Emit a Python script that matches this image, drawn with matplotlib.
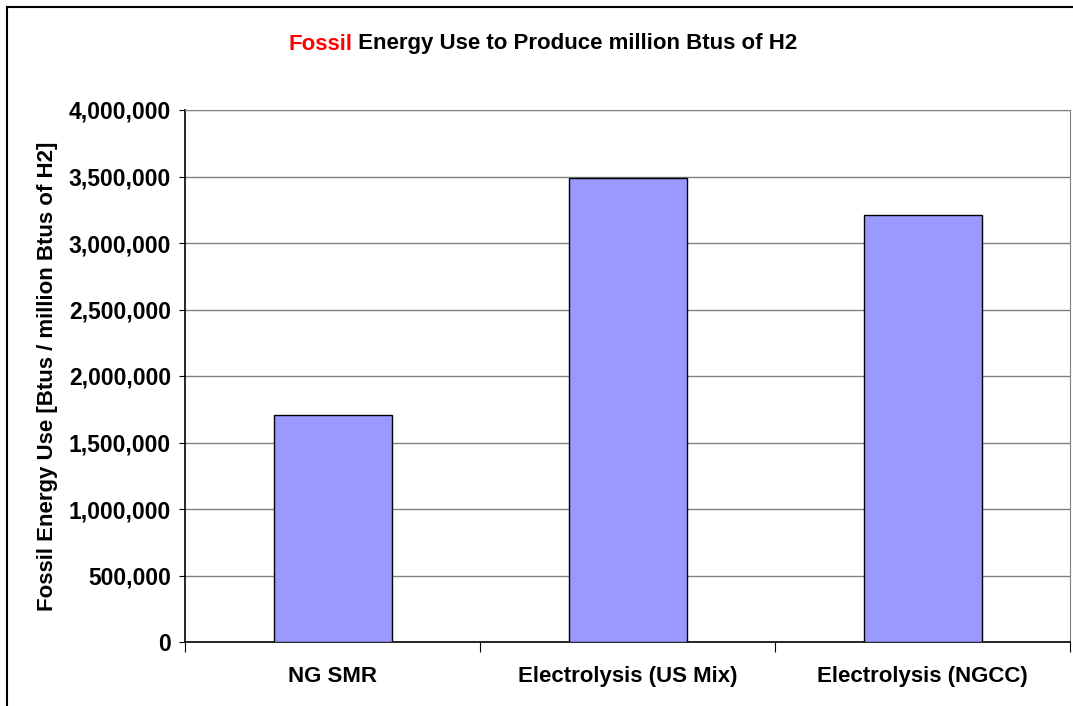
import matplotlib.pyplot as plt
import numpy as np
from matplotlib.ticker import FuncFormatter

# data
categories = ["NG SMR", "Electrolysis (US Mix)", "Electrolysis (NGCC)"]
fossil_use = [1709000, 3486000, 3210000]
y_ticks = np.arange(0, 4000001, 500000)

plt.rcParams['font.family'] = ['Liberation Sans', 'DejaVu Sans']

fig = plt.figure(figsize=(10.73, 7.06), dpi=100)
ax = fig.add_axes([185 / 1073, 1 - 642 / 706, 885 / 1073, 532 / 706])

x = np.arange(len(categories))
ax.bar(x, fossil_use, width=0.4, color='#9999ff', edgecolor='black', linewidth=1, zorder=3)

ax.set_xlim(-0.5, len(categories) - 0.5)
ax.set_ylim(0, 4000000)
ax.set_yticks(y_ticks)
ax.yaxis.set_major_formatter(FuncFormatter(lambda v, p: f"{int(v):,}"))
ax.grid(axis='y', color='#808080', linewidth=1, zorder=0)

# category separators as major ticks, labels on minor ticks
ax.set_xticks(np.arange(-0.5, len(categories), 1.0))
ax.set_xticklabels([])
ax.set_xticks(x, minor=True)
ax.set_xticklabels(categories, minor=True, fontsize=16, fontweight='bold')
ax.tick_params(axis='x', which='major', length=7, color='black')
ax.tick_params(axis='x', which='minor', length=0, pad=17)
ax.tick_params(axis='y', length=4, labelsize=16.5, pad=6)
for lab in ax.get_yticklabels():
    lab.set_fontweight('bold')

for side in ['top', 'right']:
    ax.spines[side].set_color('#808080')
ax.spines['left'].set_linewidth(1.2)
ax.spines['bottom'].set_linewidth(1.2)

ax.set_ylabel("Fossil Energy Use [Btus / million Btus of H2]", fontsize=16,
              fontweight='bold', labelpad=8)

# two-colour title
fig.text(352 / 1073, 1 - 44 / 706, "Fossil", color='red', fontsize=16,
         fontweight='bold', ha='right', va='center')
fig.text(352 / 1073, 1 - 44 / 706, " Energy Use to Produce million Btus of H2",
         color='black', fontsize=16, fontweight='bold', ha='left', va='center')

# outer chart frame (left and top visible)
fig.add_artist(plt.Line2D([7 / 1073, 7 / 1073], [0, 1 - 7 / 706], color='black',
                          linewidth=1.5, transform=fig.transFigure))
fig.add_artist(plt.Line2D([7 / 1073, 1], [1 - 7 / 706, 1 - 7 / 706], color='black',
                          linewidth=1.5, transform=fig.transFigure))

fig.savefig("out.png", dpi=100)
